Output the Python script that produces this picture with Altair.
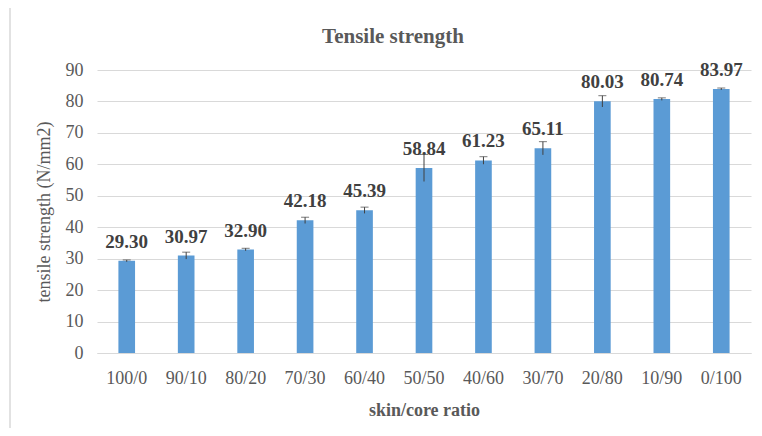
import altair as alt
import pandas as pd

ratios = ["100/0", "90/10", "80/20", "70/30", "60/40", "50/50", "40/60", "30/70", "20/80", "10/90", "0/100"]
strength = [29.30, 30.97, 32.90, 42.18, 45.39, 58.84, 61.23, 65.11, 80.03, 80.74, 83.97]
errors = [0.3, 1.1, 0.4, 1.0, 1.0, 4.3, 1.2, 2.1, 1.8, 0.4, 0.3]
y_ticks = [0, 10, 20, 30, 40, 50, 60, 70, 80, 90]
title_text = "Tensile strength"
x_title = "skin/core ratio"
y_title = "tensile strength (N/mm2)"

df = pd.DataFrame({"ratio": ratios, "value": strength, "err": errors})
df["lo"] = df["value"] - df["err"]
df["hi"] = df["value"] + df["err"]
df["label"] = df["value"].map(lambda v: f"{v:.2f}")

W, H = 654, 283
FONT = "Liberation Serif"

xscale = alt.Scale(paddingInner=0.72, paddingOuter=0.36)
yscale = alt.Scale(domain=[0, 90], nice=False)

x_axis = alt.Axis(labelAngle=0, labelFont=FONT, labelFontSize=18, labelColor="#595959",
                  labelPadding=16, ticks=False, domainColor="#d9d9d9", grid=False,
                  titleFont=FONT, titleFontSize=18, titleColor="#595959",
                  titleFontWeight="bold", titlePadding=14)
y_axis = alt.Axis(values=y_ticks, labelOverlap=False, labelFont=FONT, labelFontSize=18,
                  labelColor="#595959", labelPadding=14, ticks=False, domain=False,
                  grid=True, gridColor="#d9d9d9", titleFont=FONT, titleFontSize=18,
                  titleColor="#595959", titleFontWeight="normal", titlePadding=12)


def X():
    return alt.X("ratio:N", sort=ratios, title=x_title, scale=xscale, axis=x_axis)


def Y(field):
    return alt.Y(field, title=y_title, scale=yscale, axis=y_axis)


base = alt.Chart(df)
bars = base.mark_bar(color="#5B9BD5").encode(x=X(), y=Y("value:Q"))
err = base.mark_rule(color="#404040", strokeWidth=1).encode(x=X(), y=Y("lo:Q"), y2="hi:Q")
caps = base.mark_tick(color="#404040", thickness=1, size=8).encode(x=X(), y=Y("hi:Q"))
labels = base.mark_text(font=FONT, fontSize=19, fontWeight="bold", color="#404040",
                        baseline="bottom", dy=-9).encode(x=X(), y=Y("value:Q"), text="label:N")

one = pd.DataFrame({"t": [title_text]})
frame = alt.Chart(one).mark_rect(fill=None, stroke="#d9d9d9", strokeWidth=1.5, clip=False).encode(
    x=alt.value(-87), x2=alt.value(W + 40), y=alt.value(-63), y2=alt.value(H + 120))
title = alt.Chart(one).mark_text(font=FONT, fontSize=21, fontWeight="bold", color="#595959",
                                 align="center", baseline="middle").encode(
    x=alt.value(296), y=alt.value(-33), text="t:N")

chart = alt.layer(frame, bars, err, caps, labels, title).properties(
    width=W, height=H,
    autosize=alt.AutoSizeParams(type="none"),
    padding={"left": 89, "top": 62, "right": 3, "bottom": 75},
).configure(background="white").configure_view(stroke=None).configure_axis(
    labelFont=FONT, titleFont=FONT)

chart.save("out.html", embed_options={"renderer": "svg", "actions": False})
